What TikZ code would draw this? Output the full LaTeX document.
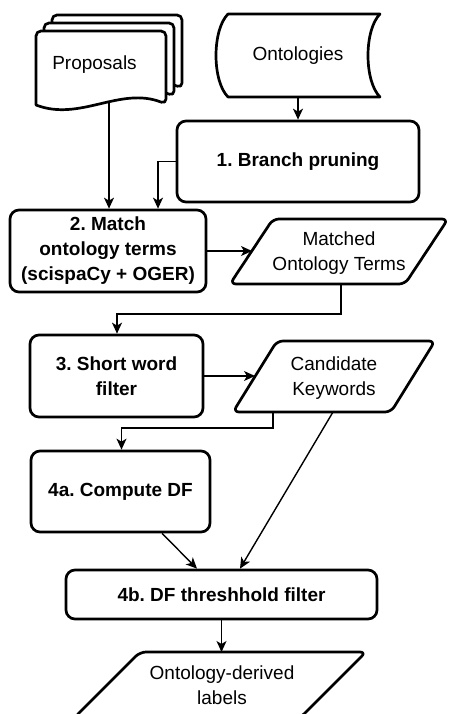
\documentclass[tikz,border=0pt]{standalone}
\usepackage{fontspec}
\setmainfont{Liberation Sans}
\usetikzlibrary{arrows.meta,calc}
\frenchspacing

\begin{document}
\begin{tikzpicture}[x=1pt,y=-1pt,
  shapeline/.style={draw=black, fill=white, line width=2.7pt, line join=round},
  procbox/.style={draw=black, fill=white, line width=2.7pt, rounded corners=9pt,
    inner sep=0pt, align=center, font={\fontsize{19}{25}\selectfont\bfseries}},
  lbl/.style={inner sep=0pt, align=center, font={\fontsize{19}{25}\selectfont}},
  conn/.style={line width=1.4pt, -{Stealth[length=11pt,width=10pt,inset=3pt]}},
]
\useasboundingbox (0,0) rectangle (449,714);
\fill[white] (0,0) rectangle (449,714);
\clip (0,0) rectangle (449,714);

% stacked document pages (back to front)
\foreach \dx/\dy in {16/-16, 8/-8, 0/0}{
  \draw[shapeline, shift={(\dx,\dy)}] (36,105) [rounded corners=5pt] -- (36,31) -- (166,31)
    -- (166,104) [sharp corners] .. controls (120,86) and (80,122) .. cycle;
}
\node[lbl] (prop) at (94.5,65) {Proposals};
\coordinate (propout) at (109,102.5);

% stored data
\draw[shapeline] (228,14) -- (380,14) .. controls (364,30) and (364,81) .. (380,97)
  -- (228,97) .. controls (212,81) and (212,30) .. cycle;
\node[lbl, minimum width=164pt, minimum height=83pt] (onto) at (298,55.5) {Ontologies};

% process steps
\node[procbox, minimum width=242pt, minimum height=81pt] (b1) at (298,161.5) {1. Branch pruning};
\node[procbox, minimum width=196pt, minimum height=82pt] (b2) at (108,251) {2. Match\\ontology terms\\(scispaCy + OGER)};
\node[procbox, minimum width=173pt, minimum height=82pt] (b3) at (116.5,376) {3. Short word\\filter};
\node[procbox, minimum width=179pt, minimum height=81pt] (b4a) at (120.5,491.5) {4a. Compute DF};
\node[procbox, minimum width=311pt, minimum height=49pt] (b4b) at (221.5,594.5) {4b. DF threshhold filter};

% data parallelograms
\draw[shapeline, rounded corners=6pt] (273,219) -- (448,219) -- (405,284) -- (230,284) -- cycle;
\node[lbl] (mt) at (339,253) {Matched\\Ontology Terms};
\coordinate (mtin) at (252,251);
\coordinate (mtout) at (341,284);

\draw[shapeline, rounded corners=6pt] (277,341) -- (435,341) -- (391,412) -- (233,412) -- cycle;
\node[lbl] (ck) at (334,378) {Candidate\\Keywords};
\coordinate (ckin) at (255,376);
\coordinate (ckout1) at (273,412);
\coordinate (ckout2) at (333,412);

\draw[shapeline, rounded corners=6pt] (140,652) -- (366,652) -- (300,718) -- (74,718) -- cycle;
\node[lbl] (out) at (222,685) {Ontology-derived\\labels};
\coordinate (outin) at (222,652);

% connectors
\draw[conn] (onto.south) -- (b1.north);
\draw[conn] (b1.west) -| ([xshift=50pt]b2.north);
\draw[conn] (propout) -- (propout |- b2.north);
\draw[conn] (b2.east) -- (mtin);
\draw[conn] (mtout) -- ++(0,30) -| ([xshift=0.5pt]b3.north);
\draw[conn] (b3.east) -- (ckin);
\draw[conn] (ckout1) -- ++(0,16) -| ([xshift=1pt]b4a.north);
\draw[conn] (ckout2) -- ([xshift=18.5pt]b4b.north);
\draw[conn] ([xshift=41.5pt]b4a.south) -- ([xshift=-24.5pt]b4b.north);
\draw[conn] (b4b.south) -- (b4b.south |- outin);
\end{tikzpicture}
\end{document}
